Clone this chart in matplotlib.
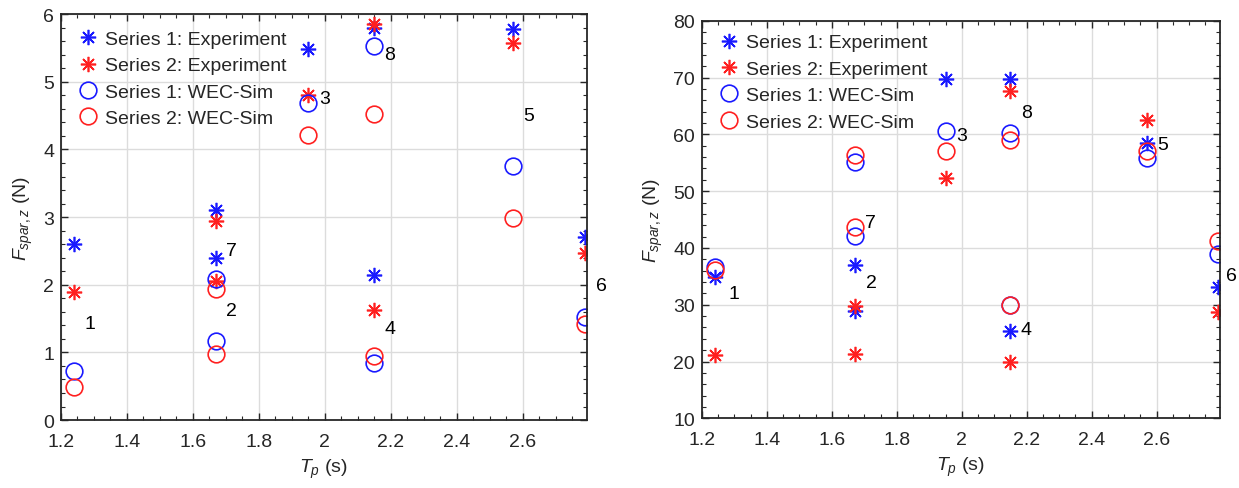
import matplotlib
matplotlib.use("Agg")
import matplotlib.pyplot as plt
from matplotlib.ticker import MultipleLocator

plt.rcParams['font.family'] = ['Liberation Sans', 'DejaVu Sans']
plt.rcParams['mathtext.fontset'] = 'custom'
plt.rcParams['mathtext.rm'] = 'Liberation Sans'
plt.rcParams['mathtext.it'] = 'Liberation Sans:italic'

# Case numbers and peak periods (s)
cases = ['1', '2', '3', '4', '5', '6', '7', '8']
tp = [1.24, 1.67, 1.95, 2.15, 2.57, 2.79, 1.67, 2.15]

# Left panel values (N)
left_s1_exp = [2.60, 2.40, 5.49, 2.15, 5.78, 2.70, 3.11, 5.80]
left_s2_exp = [1.89, 2.05, 4.80, 1.63, 5.58, 2.47, 2.94, 5.86]
left_s1_sim = [0.73, 1.17, 4.68, 0.85, 3.75, 1.53, 2.08, 5.53]
left_s2_sim = [0.49, 0.97, 4.21, 0.95, 2.99, 1.42, 1.93, 4.53]
left_label_x = [1.288, 1.718, 2.00, 2.197, 2.618, 2.84, 1.717, 2.197]
left_label_y = [1.42, 1.62, 4.76, 1.36, 4.50, 1.99, 2.50, 5.41]

# Right panel values (N)
right_s1_exp = [34.8, 28.9, 69.8, 25.3, 58.4, 33.2, 37.0, 69.8]
right_s2_exp = [21.1, 21.4, 52.3, 20.0, 62.6, 28.8, 29.8, 67.6]
right_s1_sim = [36.6, 42.1, 60.6, 30.0, 55.8, 38.9, 55.2, 60.2]
right_s2_sim = [36.2, 43.6, 57.0, 30.0, 57.0, 41.2, 56.3, 59.0]
right_label_x = [1.297, 1.723, 2.00, 2.199, 2.62, 2.83, 1.718, 2.20]
right_label_y = [31.9, 33.9, 59.8, 25.7, 58.3, 35.2, 44.5, 63.9]

legend_labels = ['Series 1: Experiment', 'Series 2: Experiment',
                 'Series 1: WEC-Sim', 'Series 2: WEC-Sim']

BLUE = '#1a1aff'
RED = '#ff2020'
DARK = '#262626'
AST = (8, 2, 0)
FS = 14

fig = plt.figure(figsize=(12.39, 4.89), dpi=100)
axL = fig.add_axes([0.0492, 0.139, 0.4245, 0.830])
axR = fig.add_axes([0.5666, 0.1425, 0.418, 0.813])


def draw(ax, s1e, s2e, s1s, s2s, lx, ly, ylim, ymaj, ymin, leg_anchor):
    h1, = ax.plot(tp, s1e, linestyle='none', marker=AST, ms=11, mec=BLUE, mfc=BLUE, mew=1.2)
    h2, = ax.plot(tp, s2e, linestyle='none', marker=AST, ms=11, mec=RED, mfc=RED, mew=1.2)
    h3, = ax.plot(tp, s1s, linestyle='none', marker='o', ms=12, mec=BLUE, mfc='none', mew=1.2)
    h4, = ax.plot(tp, s2s, linestyle='none', marker='o', ms=12, mec=RED, mfc='none', mew=1.2)
    for c, x, y in zip(cases, lx, ly):
        ax.text(x, y, c, fontsize=FS, color='black', ha='center', va='center', clip_on=False)
    ax.set_xlim(1.2, 2.795)
    ax.set_ylim(*ylim)
    ax.xaxis.set_major_locator(MultipleLocator(0.2))
    ax.xaxis.set_minor_locator(MultipleLocator(0.05))
    ax.yaxis.set_major_locator(MultipleLocator(ymaj))
    ax.yaxis.set_minor_locator(MultipleLocator(ymin))
    ax.set_xticks([1.2, 1.4, 1.6, 1.8, 2.0, 2.2, 2.4, 2.6])
    ax.set_xticklabels(['1.2', '1.4', '1.6', '1.8', '2', '2.2', '2.4', '2.6'])
    ax.grid(True, which='major', color='#dcdcdc', linewidth=1.0)
    ax.set_axisbelow(True)
    ax.tick_params(which='both', direction='in', top=True, right=True,
                   colors=DARK, labelsize=FS, labelcolor=DARK)
    ax.tick_params(which='major', length=5, width=1.0)
    ax.tick_params(which='minor', length=3, width=0.8)
    ax.tick_params(axis='x', which='both', pad=9)
    ax.tick_params(axis='y', which='both', pad=5)
    for s in ax.spines.values():
        s.set_color(DARK)
        s.set_linewidth(1.3)
    ax.set_xlabel(r'$T_{p}$ (s)', fontsize=FS, color=DARK, labelpad=5)
    ax.set_ylabel(r'$F_{spar,z}$ (N)', fontsize=FS, color=DARK, labelpad=6)
    ax.legend([h1, h2, h3, h4], legend_labels, loc='upper left', bbox_to_anchor=leg_anchor,
              frameon=False, fontsize=FS, handlelength=1.0, handletextpad=0.4,
              labelspacing=0.45, borderpad=0, borderaxespad=0, labelcolor=DARK)


draw(axL, left_s1_exp, left_s2_exp, left_s1_sim, left_s2_sim,
     left_label_x, left_label_y, (0, 6), 1, 0.2, (0.032, 0.96))
draw(axR, right_s1_exp, right_s2_exp, right_s1_sim, right_s2_sim,
     right_label_x, right_label_y, (10, 80), 10, 2, (0.033, 0.967))

fig.savefig('out.png', dpi=100)
